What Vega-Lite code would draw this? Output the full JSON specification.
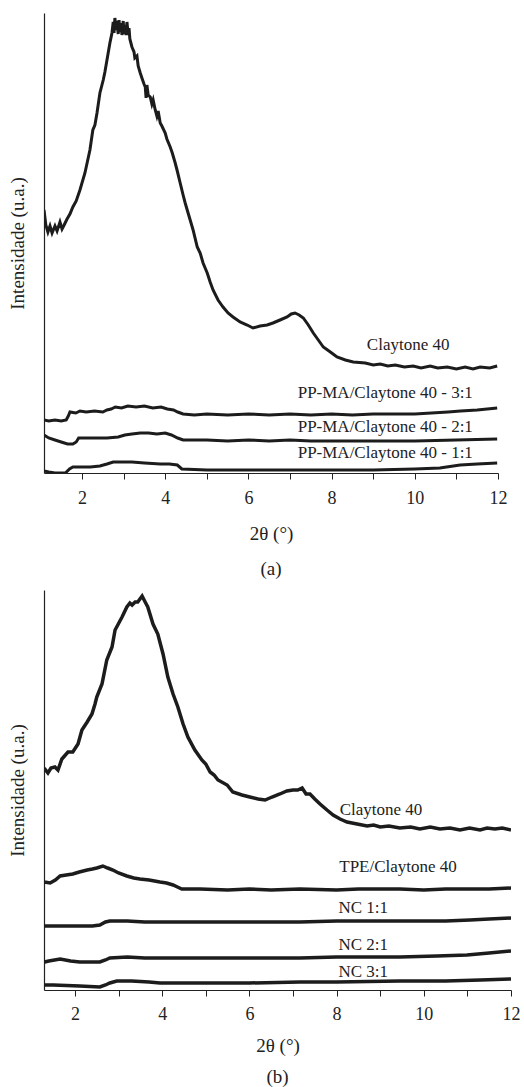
{
  "$schema": "https://vega.github.io/schema/vega-lite/v6.json",
  "padding": {"top": 13, "left": 8, "right": 4, "bottom": 0},
  "background": "white",
  "config": {
    "font": "Liberation Serif",
    "view": {"stroke": null},
    "axis": {
      "grid": false,
      "domainColor": "#222222",
      "domainWidth": 1.2,
      "tickColor": "#222222",
      "labelFont": "Liberation Serif",
      "labelFontSize": 18,
      "labelColor": "#222222",
      "titleFont": "Liberation Serif",
      "titleFontSize": 19,
      "titleFontWeight": "normal",
      "titleColor": "#222222"
    },
    "title": {"font": "Liberation Serif", "fontSize": 19, "fontWeight": "normal", "color": "#222222"}
  },
  "datasets": {
    "la": [
      {"t": 1.086, "i": 263, "s": "C"}, {"t": 1.13, "i": 248, "s": "C"}, {"t": 1.18, "i": 241, "s": "C"}, {"t": 1.23, "i": 247, "s": "C"}, {"t": 1.28, "i": 240, "s": "C"}, {"t": 1.35, "i": 247, "s": "C"}, {"t": 1.40, "i": 242, "s": "C"}, {"t": 1.47, "i": 251, "s": "C"}, {"t": 1.52, "i": 244, "s": "C"}, {"t": 1.57, "i": 248, "s": "C"}, {"t": 1.64, "i": 254, "s": "C"}, {"t": 1.71, "i": 259, "s": "C"}, {"t": 1.78, "i": 266, "s": "C"}, {"t": 1.86, "i": 272, "s": "C"}, {"t": 1.95, "i": 283, "s": "C"}, {"t": 2.07, "i": 300, "s": "C"}, {"t": 2.19, "i": 323, "s": "C"}, {"t": 2.26, "i": 343, "s": "C"}, {"t": 2.31, "i": 348, "s": "C"}, {"t": 2.36, "i": 360, "s": "C"}, {"t": 2.43, "i": 380, "s": "C"}, {"t": 2.51, "i": 393, "s": "C"}, {"t": 2.55, "i": 401, "s": "C"}, {"t": 2.60, "i": 413, "s": "C"}, {"t": 2.67, "i": 430, "s": "C"}, {"t": 2.72, "i": 440, "s": "C"}, {"t": 2.75, "i": 451, "s": "C"}, {"t": 2.77, "i": 440, "s": "C"}, {"t": 2.79, "i": 455, "s": "C"}, {"t": 2.82, "i": 443, "s": "C"}, {"t": 2.84, "i": 452, "s": "C"}, {"t": 2.87, "i": 439, "s": "C"}, {"t": 2.89, "i": 453, "s": "C"}, {"t": 2.91, "i": 441, "s": "C"}, {"t": 2.94, "i": 450, "s": "C"}, {"t": 2.96, "i": 438, "s": "C"}, {"t": 2.99, "i": 452, "s": "C"}, {"t": 3.01, "i": 439, "s": "C"}, {"t": 3.03, "i": 448, "s": "C"}, {"t": 3.06, "i": 438, "s": "C"}, {"t": 3.08, "i": 451, "s": "C"}, {"t": 3.11, "i": 438, "s": "C"}, {"t": 3.13, "i": 445, "s": "C"}, {"t": 3.15, "i": 434, "s": "C"}, {"t": 3.20, "i": 426, "s": "C"}, {"t": 3.25, "i": 421, "s": "C"}, {"t": 3.27, "i": 415, "s": "C"}, {"t": 3.32, "i": 417, "s": "C"}, {"t": 3.35, "i": 407, "s": "C"}, {"t": 3.40, "i": 400, "s": "C"}, {"t": 3.44, "i": 395, "s": "C"}, {"t": 3.49, "i": 389, "s": "C"}, {"t": 3.52, "i": 386, "s": "C"}, {"t": 3.54, "i": 375, "s": "C"}, {"t": 3.56, "i": 388, "s": "C"}, {"t": 3.59, "i": 378, "s": "C"}, {"t": 3.64, "i": 376, "s": "C"}, {"t": 3.68, "i": 369, "s": "C"}, {"t": 3.71, "i": 373, "s": "C"}, {"t": 3.76, "i": 363, "s": "C"}, {"t": 3.80, "i": 357, "s": "C"}, {"t": 3.83, "i": 362, "s": "C"}, {"t": 3.88, "i": 350, "s": "C"}, {"t": 3.92, "i": 347, "s": "C"}, {"t": 4.00, "i": 340, "s": "C"}, {"t": 4.04, "i": 334, "s": "C"}, {"t": 4.12, "i": 326, "s": "C"}, {"t": 4.17, "i": 320, "s": "C"}, {"t": 4.24, "i": 310, "s": "C"}, {"t": 4.29, "i": 302, "s": "C"}, {"t": 4.36, "i": 290, "s": "C"}, {"t": 4.43, "i": 278, "s": "C"}, {"t": 4.48, "i": 270, "s": "C"}, {"t": 4.55, "i": 260, "s": "C"}, {"t": 4.60, "i": 253, "s": "C"}, {"t": 4.67, "i": 243, "s": "C"}, {"t": 4.77, "i": 226, "s": "C"}, {"t": 4.84, "i": 220, "s": "C"}, {"t": 4.91, "i": 210, "s": "C"}, {"t": 5.01, "i": 200, "s": "C"}, {"t": 5.08, "i": 191, "s": "C"}, {"t": 5.15, "i": 183, "s": "C"}, {"t": 5.27, "i": 173, "s": "C"}, {"t": 5.39, "i": 166, "s": "C"}, {"t": 5.51, "i": 160, "s": "C"}, {"t": 5.63, "i": 156, "s": "C"}, {"t": 5.80, "i": 151, "s": "C"}, {"t": 5.97, "i": 148, "s": "C"}, {"t": 6.11, "i": 145, "s": "C"}, {"t": 6.28, "i": 147, "s": "C"}, {"t": 6.45, "i": 148, "s": "C"}, {"t": 6.59, "i": 150, "s": "C"}, {"t": 6.76, "i": 153, "s": "C"}, {"t": 6.93, "i": 156, "s": "C"}, {"t": 7.03, "i": 159, "s": "C"}, {"t": 7.12, "i": 160, "s": "C"}, {"t": 7.22, "i": 158, "s": "C"}, {"t": 7.32, "i": 155, "s": "C"}, {"t": 7.44, "i": 148, "s": "C"}, {"t": 7.56, "i": 140, "s": "C"}, {"t": 7.68, "i": 133, "s": "C"}, {"t": 7.80, "i": 126, "s": "C"}, {"t": 7.97, "i": 121, "s": "C"}, {"t": 8.13, "i": 116, "s": "C"}, {"t": 8.33, "i": 113, "s": "C"}, {"t": 8.52, "i": 111, "s": "C"}, {"t": 8.81, "i": 110, "s": "C"}, {"t": 9.0, "i": 108, "s": "C"}, {"t": 9.17, "i": 109, "s": "C"}, {"t": 9.35, "i": 107, "s": "C"}, {"t": 9.53, "i": 108, "s": "C"}, {"t": 9.75, "i": 106, "s": "C"}, {"t": 9.96, "i": 107, "s": "C"}, {"t": 10.15, "i": 105, "s": "C"}, {"t": 10.37, "i": 107, "s": "C"}, {"t": 10.55, "i": 105, "s": "C"}, {"t": 10.78, "i": 106, "s": "C"}, {"t": 11.0, "i": 104, "s": "C"}, {"t": 11.21, "i": 106, "s": "C"}, {"t": 11.4, "i": 104, "s": "C"}, {"t": 11.57, "i": 106, "s": "C"}, {"t": 11.8, "i": 105, "s": "C"}, {"t": 11.98, "i": 107, "s": "C"},

      {"t": 1.086, "i": 53, "s": "A3"}, {"t": 1.2, "i": 52, "s": "A3"}, {"t": 1.35, "i": 53, "s": "A3"}, {"t": 1.5, "i": 52, "s": "A3"}, {"t": 1.62, "i": 53, "s": "A3"}, {"t": 1.67, "i": 57, "s": "A3"}, {"t": 1.71, "i": 61, "s": "A3"}, {"t": 1.85, "i": 60, "s": "A3"}, {"t": 1.95, "i": 62, "s": "A3"}, {"t": 2.1, "i": 61, "s": "A3"}, {"t": 2.3, "i": 62, "s": "A3"}, {"t": 2.5, "i": 61, "s": "A3"}, {"t": 2.6, "i": 63, "s": "A3"}, {"t": 2.7, "i": 64, "s": "A3"}, {"t": 2.8, "i": 66, "s": "A3"}, {"t": 2.95, "i": 65, "s": "A3"}, {"t": 3.1, "i": 67, "s": "A3"}, {"t": 3.3, "i": 66, "s": "A3"}, {"t": 3.5, "i": 67, "s": "A3"}, {"t": 3.7, "i": 65, "s": "A3"}, {"t": 3.9, "i": 66, "s": "A3"}, {"t": 4.05, "i": 64, "s": "A3"}, {"t": 4.2, "i": 63, "s": "A3"}, {"t": 4.3, "i": 61, "s": "A3"}, {"t": 4.43, "i": 59, "s": "A3"}, {"t": 4.7, "i": 58, "s": "A3"}, {"t": 5.0, "i": 59, "s": "A3"}, {"t": 5.5, "i": 58, "s": "A3"}, {"t": 6.0, "i": 59, "s": "A3"}, {"t": 6.5, "i": 58, "s": "A3"}, {"t": 7.0, "i": 59, "s": "A3"}, {"t": 7.5, "i": 58, "s": "A3"}, {"t": 8.0, "i": 59, "s": "A3"}, {"t": 8.5, "i": 58, "s": "A3"}, {"t": 9.0, "i": 59, "s": "A3"}, {"t": 9.5, "i": 59, "s": "A3"}, {"t": 10.0, "i": 59, "s": "A3"}, {"t": 10.4, "i": 60, "s": "A3"}, {"t": 10.8, "i": 61, "s": "A3"}, {"t": 11.1, "i": 62, "s": "A3"}, {"t": 11.5, "i": 63, "s": "A3"}, {"t": 11.98, "i": 65, "s": "A3"},

      {"t": 1.086, "i": 38, "s": "A2"}, {"t": 1.2, "i": 35, "s": "A2"}, {"t": 1.35, "i": 33, "s": "A2"}, {"t": 1.5, "i": 31, "s": "A2"}, {"t": 1.65, "i": 29, "s": "A2"}, {"t": 1.78, "i": 29, "s": "A2"}, {"t": 1.86, "i": 31, "s": "A2"}, {"t": 1.92, "i": 35, "s": "A2"}, {"t": 2.02, "i": 35, "s": "A2"}, {"t": 2.3, "i": 35, "s": "A2"}, {"t": 2.6, "i": 35, "s": "A2"}, {"t": 2.87, "i": 36, "s": "A2"}, {"t": 3.03, "i": 38, "s": "A2"}, {"t": 3.2, "i": 39, "s": "A2"}, {"t": 3.4, "i": 40, "s": "A2"}, {"t": 3.6, "i": 40, "s": "A2"}, {"t": 3.8, "i": 39, "s": "A2"}, {"t": 4.0, "i": 40, "s": "A2"}, {"t": 4.15, "i": 38, "s": "A2"}, {"t": 4.3, "i": 35, "s": "A2"}, {"t": 4.43, "i": 33, "s": "A2"}, {"t": 5.0, "i": 33, "s": "A2"}, {"t": 5.5, "i": 32, "s": "A2"}, {"t": 6.0, "i": 33, "s": "A2"}, {"t": 6.5, "i": 32, "s": "A2"}, {"t": 7.0, "i": 33, "s": "A2"}, {"t": 7.5, "i": 32, "s": "A2"}, {"t": 8.0, "i": 32, "s": "A2"}, {"t": 9.0, "i": 32, "s": "A2"}, {"t": 10.0, "i": 32, "s": "A2"}, {"t": 11.0, "i": 33, "s": "A2"}, {"t": 11.98, "i": 34, "s": "A2"},

      {"t": 1.086, "i": 2, "s": "A1"}, {"t": 1.2, "i": 1, "s": "A1"}, {"t": 1.35, "i": 0, "s": "A1"}, {"t": 1.5, "i": 0, "s": "A1"}, {"t": 1.6, "i": 0, "s": "A1"}, {"t": 1.7, "i": 4, "s": "A1"}, {"t": 1.78, "i": 6, "s": "A1"}, {"t": 2.0, "i": 6, "s": "A1"}, {"t": 2.2, "i": 6, "s": "A1"}, {"t": 2.43, "i": 7, "s": "A1"}, {"t": 2.6, "i": 9, "s": "A1"}, {"t": 2.75, "i": 11, "s": "A1"}, {"t": 2.91, "i": 11, "s": "A1"}, {"t": 3.2, "i": 11, "s": "A1"}, {"t": 3.5, "i": 10, "s": "A1"}, {"t": 3.88, "i": 9, "s": "A1"}, {"t": 4.1, "i": 9, "s": "A1"}, {"t": 4.29, "i": 8, "s": "A1"}, {"t": 4.4, "i": 4, "s": "A1"}, {"t": 5.0, "i": 3, "s": "A1"}, {"t": 6.0, "i": 3, "s": "A1"}, {"t": 7.24, "i": 3, "s": "A1"}, {"t": 8.0, "i": 3, "s": "A1"}, {"t": 9.0, "i": 3, "s": "A1"}, {"t": 10.0, "i": 4, "s": "A1"}, {"t": 10.6, "i": 5, "s": "A1"}, {"t": 11.09, "i": 8, "s": "A1"}, {"t": 11.5, "i": 9, "s": "A1"}, {"t": 11.98, "i": 10, "s": "A1"}
    ],
    "ta": [
      {"t": 9.84, "i": 128, "label": "Claytone 40"},
      {"t": 9.29, "i": 80, "label": "PP-MA/Claytone 40 - 3:1"},
      {"t": 9.29, "i": 46, "label": "PP-MA/Claytone 40 - 2:1"},
      {"t": 9.29, "i": 20, "label": "PP-MA/Claytone 40 - 1:1"}
    ],
    "lb": [
      {"t": 1.197, "i": 219, "s": "C"}, {"t": 1.24, "i": 223, "s": "C"}, {"t": 1.31, "i": 221, "s": "C"}, {"t": 1.38, "i": 217, "s": "C"}, {"t": 1.45, "i": 222, "s": "C"}, {"t": 1.54, "i": 223, "s": "C"}, {"t": 1.61, "i": 220, "s": "C"}, {"t": 1.70, "i": 231, "s": "C"}, {"t": 1.84, "i": 238, "s": "C"}, {"t": 1.95, "i": 238, "s": "C"}, {"t": 2.07, "i": 246, "s": "C"}, {"t": 2.16, "i": 260, "s": "C"}, {"t": 2.28, "i": 268, "s": "C"}, {"t": 2.39, "i": 276, "s": "C"}, {"t": 2.46, "i": 286, "s": "C"}, {"t": 2.50, "i": 293, "s": "C"}, {"t": 2.62, "i": 306, "s": "C"}, {"t": 2.73, "i": 330, "s": "C"}, {"t": 2.85, "i": 343, "s": "C"}, {"t": 2.92, "i": 360, "s": "C"}, {"t": 3.08, "i": 373, "s": "C"}, {"t": 3.19, "i": 383, "s": "C"}, {"t": 3.26, "i": 387, "s": "C"}, {"t": 3.31, "i": 385, "s": "C"}, {"t": 3.38, "i": 388, "s": "C"}, {"t": 3.44, "i": 388, "s": "C"}, {"t": 3.54, "i": 394, "s": "C"}, {"t": 3.61, "i": 388, "s": "C"}, {"t": 3.67, "i": 383, "s": "C"}, {"t": 3.79, "i": 366, "s": "C"}, {"t": 3.90, "i": 356, "s": "C"}, {"t": 4.02, "i": 336, "s": "C"}, {"t": 4.13, "i": 313, "s": "C"}, {"t": 4.25, "i": 296, "s": "C"}, {"t": 4.36, "i": 283, "s": "C"}, {"t": 4.48, "i": 266, "s": "C"}, {"t": 4.59, "i": 253, "s": "C"}, {"t": 4.75, "i": 240, "s": "C"}, {"t": 4.91, "i": 230, "s": "C"}, {"t": 5.00, "i": 226, "s": "C"}, {"t": 5.10, "i": 218, "s": "C"}, {"t": 5.19, "i": 215, "s": "C"}, {"t": 5.28, "i": 210, "s": "C"}, {"t": 5.49, "i": 205, "s": "C"}, {"t": 5.62, "i": 198, "s": "C"}, {"t": 5.83, "i": 195, "s": "C"}, {"t": 6.01, "i": 193, "s": "C"}, {"t": 6.20, "i": 191, "s": "C"}, {"t": 6.36, "i": 190, "s": "C"}, {"t": 6.52, "i": 193, "s": "C"}, {"t": 6.70, "i": 196, "s": "C"}, {"t": 6.86, "i": 199, "s": "C"}, {"t": 7.00, "i": 200, "s": "C"}, {"t": 7.11, "i": 200, "s": "C"}, {"t": 7.21, "i": 202, "s": "C"}, {"t": 7.30, "i": 196, "s": "C"}, {"t": 7.39, "i": 196, "s": "C"}, {"t": 7.50, "i": 191, "s": "C"}, {"t": 7.62, "i": 186, "s": "C"}, {"t": 7.78, "i": 180, "s": "C"}, {"t": 7.92, "i": 175, "s": "C"}, {"t": 8.08, "i": 171, "s": "C"}, {"t": 8.24, "i": 168, "s": "C"}, {"t": 8.47, "i": 166, "s": "C"}, {"t": 8.7, "i": 164, "s": "C"}, {"t": 8.85, "i": 165, "s": "C"}, {"t": 9.0, "i": 163, "s": "C"}, {"t": 9.2, "i": 164, "s": "C"}, {"t": 9.45, "i": 162, "s": "C"}, {"t": 9.7, "i": 163, "s": "C"}, {"t": 9.91, "i": 161, "s": "C"}, {"t": 10.15, "i": 163, "s": "C"}, {"t": 10.37, "i": 161, "s": "C"}, {"t": 10.6, "i": 162, "s": "C"}, {"t": 10.83, "i": 160, "s": "C"}, {"t": 11.05, "i": 162, "s": "C"}, {"t": 11.29, "i": 160, "s": "C"}, {"t": 11.45, "i": 162, "s": "C"}, {"t": 11.63, "i": 161, "s": "C"}, {"t": 11.8, "i": 162, "s": "C"}, {"t": 12.0, "i": 160, "s": "C"},

      {"t": 1.197, "i": 109, "s": "T"}, {"t": 1.3, "i": 108, "s": "T"}, {"t": 1.43, "i": 107, "s": "T"}, {"t": 1.55, "i": 110, "s": "T"}, {"t": 1.66, "i": 114, "s": "T"}, {"t": 1.8, "i": 115, "s": "T"}, {"t": 1.95, "i": 116, "s": "T"}, {"t": 2.1, "i": 118, "s": "T"}, {"t": 2.28, "i": 120, "s": "T"}, {"t": 2.4, "i": 121, "s": "T"}, {"t": 2.5, "i": 122, "s": "T"}, {"t": 2.64, "i": 124, "s": "T"}, {"t": 2.75, "i": 122, "s": "T"}, {"t": 2.87, "i": 120, "s": "T"}, {"t": 3.0, "i": 117, "s": "T"}, {"t": 3.19, "i": 114, "s": "T"}, {"t": 3.35, "i": 112, "s": "T"}, {"t": 3.49, "i": 111, "s": "T"}, {"t": 3.7, "i": 110, "s": "T"}, {"t": 3.95, "i": 108, "s": "T"}, {"t": 4.1, "i": 107, "s": "T"}, {"t": 4.25, "i": 105, "s": "T"}, {"t": 4.35, "i": 103, "s": "T"}, {"t": 4.45, "i": 101, "s": "T"}, {"t": 4.87, "i": 101, "s": "T"}, {"t": 5.5, "i": 100, "s": "T"}, {"t": 6.0, "i": 101, "s": "T"}, {"t": 6.5, "i": 100, "s": "T"}, {"t": 7.16, "i": 101, "s": "T"}, {"t": 8.0, "i": 100, "s": "T"}, {"t": 8.5, "i": 101, "s": "T"}, {"t": 9.45, "i": 101, "s": "T"}, {"t": 10.0, "i": 100, "s": "T"}, {"t": 10.5, "i": 101, "s": "T"}, {"t": 11.0, "i": 101, "s": "T"}, {"t": 11.5, "i": 101, "s": "T"}, {"t": 12.0, "i": 102, "s": "T"},

      {"t": 1.197, "i": 64, "s": "N1"}, {"t": 1.6, "i": 64, "s": "N1"}, {"t": 2.0, "i": 64, "s": "N1"}, {"t": 2.4, "i": 64, "s": "N1"}, {"t": 2.57, "i": 65, "s": "N1"}, {"t": 2.7, "i": 68, "s": "N1"}, {"t": 2.8, "i": 69, "s": "N1"}, {"t": 3.2, "i": 69, "s": "N1"}, {"t": 3.6, "i": 68, "s": "N1"}, {"t": 4.0, "i": 68, "s": "N1"}, {"t": 4.87, "i": 68, "s": "N1"}, {"t": 6.0, "i": 68, "s": "N1"}, {"t": 7.16, "i": 68, "s": "N1"}, {"t": 8.0, "i": 69, "s": "N1"}, {"t": 9.45, "i": 69, "s": "N1"}, {"t": 10.5, "i": 69, "s": "N1"}, {"t": 11.06, "i": 70, "s": "N1"}, {"t": 11.5, "i": 71, "s": "N1"}, {"t": 12.0, "i": 72, "s": "N1"},

      {"t": 1.197, "i": 27, "s": "N2"}, {"t": 1.4, "i": 29, "s": "N2"}, {"t": 1.66, "i": 31, "s": "N2"}, {"t": 1.9, "i": 29, "s": "N2"}, {"t": 2.11, "i": 28, "s": "N2"}, {"t": 2.57, "i": 28, "s": "N2"}, {"t": 2.7, "i": 30, "s": "N2"}, {"t": 2.8, "i": 32, "s": "N2"}, {"t": 3.2, "i": 33, "s": "N2"}, {"t": 3.6, "i": 32, "s": "N2"}, {"t": 4.0, "i": 32, "s": "N2"}, {"t": 4.87, "i": 32, "s": "N2"}, {"t": 6.0, "i": 32, "s": "N2"}, {"t": 7.16, "i": 32, "s": "N2"}, {"t": 8.0, "i": 33, "s": "N2"}, {"t": 9.45, "i": 33, "s": "N2"}, {"t": 10.3, "i": 34, "s": "N2"}, {"t": 10.99, "i": 35, "s": "N2"}, {"t": 11.5, "i": 37, "s": "N2"}, {"t": 12.0, "i": 39, "s": "N2"},

      {"t": 1.197, "i": 5, "s": "N3"}, {"t": 1.5, "i": 5, "s": "N3"}, {"t": 2.11, "i": 4, "s": "N3"}, {"t": 2.57, "i": 3, "s": "N3"}, {"t": 2.7, "i": 5, "s": "N3"}, {"t": 2.8, "i": 7, "s": "N3"}, {"t": 2.96, "i": 9, "s": "N3"}, {"t": 3.3, "i": 9, "s": "N3"}, {"t": 3.7, "i": 8, "s": "N3"}, {"t": 3.95, "i": 7, "s": "N3"}, {"t": 4.87, "i": 7, "s": "N3"}, {"t": 6.0, "i": 7, "s": "N3"}, {"t": 7.16, "i": 8, "s": "N3"}, {"t": 8.0, "i": 8, "s": "N3"}, {"t": 9.45, "i": 9, "s": "N3"}, {"t": 10.5, "i": 9, "s": "N3"}, {"t": 11.3, "i": 10, "s": "N3"}, {"t": 12.0, "i": 11, "s": "N3"}
    ],
    "tb": [
      {"t": 9.02, "i": 180, "label": "Claytone 40"},
      {"t": 9.41, "i": 123, "label": "TPE/Claytone 40"},
      {"t": 8.61, "i": 82, "label": "NC 1:1"},
      {"t": 8.61, "i": 45, "label": "NC 2:1"},
      {"t": 8.61, "i": 18, "label": "NC 3:1"}
    ]
  },
  "columns": 1,
  "spacing": 11,
  "concat": [
    {
      "width": 454,
      "height": 460,
      "title": {"text": "(a)", "orient": "bottom", "offset": 17},
      "layer": [
        {
          "data": {"name": "la"},
          "mark": {"type": "line", "color": "#1c1c1c", "strokeWidth": 3, "clip": true},
          "encoding": {
            "x": {
              "field": "t", "type": "quantitative",
              "scale": {"domain": [1.086, 12], "nice": false, "zero": false},
              "axis": {
                "title": "2θ (°)",
                "values": [2, 3, 4, 5, 6, 7, 8, 9, 10, 11, 12],
                "labelExpr": "datum.value % 2 === 0 ? datum.label : ''",
                "labelFlush": false,
                "labelOverlap": false,
                "tickSize": 6,
                "labelPadding": 10,
                "titlePadding": 17
              }
            },
            "y": {
              "field": "i", "type": "quantitative",
              "scale": {"domain": [0, 460], "nice": false, "zero": false},
              "axis": {"title": "Intensidade (u.a.)", "ticks": false, "labels": false, "titlePadding": 17}
            },
            "detail": {"field": "s"}
          }
        },
        {
          "data": {"name": "ta"},
          "mark": {"type": "text", "font": "Liberation Serif", "fontSize": 17, "color": "#222222", "align": "center", "baseline": "middle"},
          "encoding": {
            "x": {"field": "t", "type": "quantitative"},
            "y": {"field": "i", "type": "quantitative"},
            "text": {"field": "label"}
          }
        }
      ]
    },
    {
      "width": 467,
      "height": 400,
      "title": {"text": "(b)", "orient": "bottom", "offset": 13},
      "layer": [
        {
          "data": {"name": "lb"},
          "mark": {"type": "line", "color": "#1c1c1c", "clip": true},
          "encoding": {
            "x": {
              "field": "t", "type": "quantitative",
              "scale": {"domain": [1.29, 12], "nice": false, "zero": false},
              "axis": {
                "title": "2θ (°)",
                "values": [2, 3, 4, 5, 6, 7, 8, 9, 10, 11, 12],
                "labelExpr": "datum.value % 2 === 0 ? datum.label : ''",
                "labelFlush": false,
                "labelOverlap": false,
                "tickSize": 6,
                "labelPadding": 9,
                "titlePadding": 13
              }
            },
            "y": {
              "field": "i", "type": "quantitative",
              "scale": {"domain": [0, 400], "nice": false, "zero": false},
              "axis": {"title": "Intensidade (u.a.)", "ticks": false, "labels": false, "titlePadding": 17}
            },
            "detail": {"field": "s"},
            "strokeWidth": {
              "field": "s", "type": "nominal",
              "scale": {"domain": ["C", "T", "N1", "N2", "N3"], "range": [3.5, 3.5, 1.5, 3, 3.5]},
              "legend": null
            }
          }
        },
        {
          "data": {"name": "tb"},
          "mark": {"type": "text", "font": "Liberation Serif", "fontSize": 17, "color": "#222222", "align": "center", "baseline": "middle"},
          "encoding": {
            "x": {"field": "t", "type": "quantitative"},
            "y": {"field": "i", "type": "quantitative"},
            "text": {"field": "label"}
          }
        }
      ]
    }
  ]
}
